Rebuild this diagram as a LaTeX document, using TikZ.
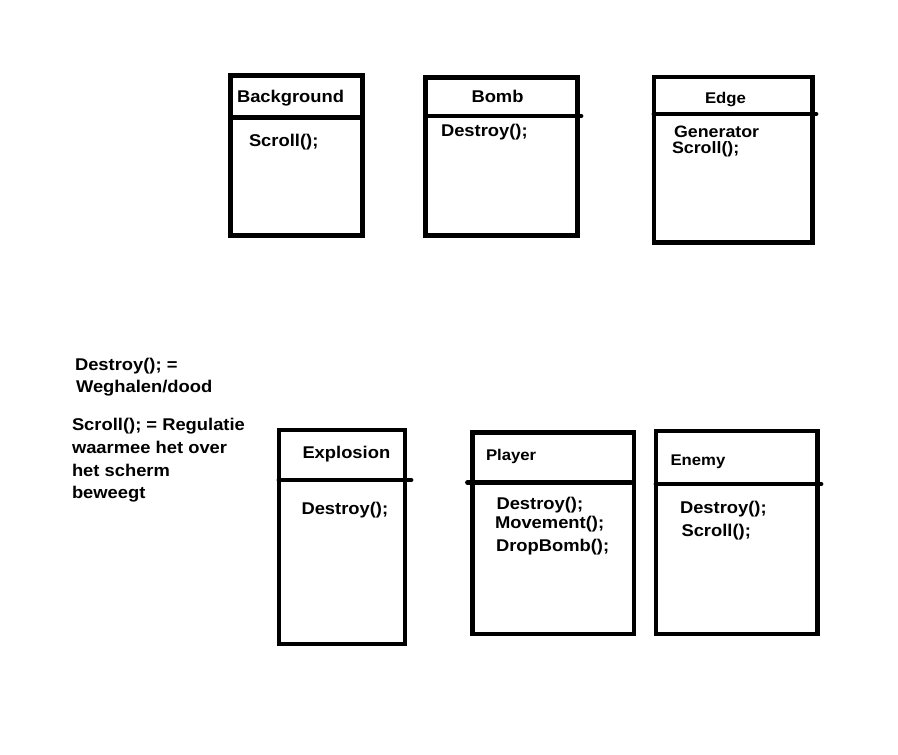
\documentclass[tikz,border=0pt]{standalone}
\usepackage{fontspec}
\setmainfont{Liberation Sans}[FakeStretch=1.08]
\begin{document}
\begin{tikzpicture}[x=1pt,y=-1pt,
  cls/.style={draw=black,line width=4.8pt,line join=miter,inner sep=0pt,outer sep=0pt},
  div/.style={draw=black,line width=4.8pt,line cap=round},
  txt/.style={anchor=base west,inner sep=0pt,outer sep=0pt,font=\bfseries\fontsize{17}{20}\selectfont},
  sml/.style={txt,font=\bfseries\fontsize{15.5}{18}\selectfont},
  mid/.style={txt,font=\bfseries\fontsize{16.5}{18}\selectfont}]
\useasboundingbox[fill=white] (0,0) rectangle (898,755);
% boxes
\node[cls,minimum width=132pt,minimum height=160pt] (bg) at (296.5,155.75) {};
\node[cls,minimum width=151.7pt,minimum height=158pt] (bomb) at (501.65,156.5) {};
\node[cls,minimum width=158.5pt,minimum height=165.5pt] (edge) at (733.25,159.75) {};
\node[cls,minimum width=126pt,minimum height=214pt] (expl) at (342,537) {};
\node[cls,minimum width=161.5pt,minimum height=201.5pt] (player) at (553.25,533.25) {};
\node[cls,minimum width=161.5pt,minimum height=203pt] (enemy) at (736.75,532.5) {};
% dividers
\draw[div] (bg.west |- 0,117.5) -- (bg.east |- 0,117.5);
\draw[div] (bomb.west |- 0,116) -- ([xshift=3.5pt]bomb.east |- 0,116);
\draw[div] (edge.west |- 0,114) -- ([xshift=3.5pt]edge.east |- 0,114);
\draw[div] (expl.west |- 0,480) -- ([xshift=6pt]expl.east |- 0,480);
\draw[div] ([xshift=-5pt]player.west |- 0,482.5) -- ([xshift=-3pt]player.east |- 0,482.5);
\draw[div] (enemy.west |- 0,484) -- ([xshift=3.5pt]enemy.east |- 0,484);
% texts
\node[txt] (t1) at (237,102) {Background};
\node[txt] (t2) at (249,146) {Scroll();};
\node[txt] (t3) at (471.5,102.5) {Bomb};
\node[txt] (t4) at (441,136.5) {Destroy();};
\node[sml] (t5) at (705,103) {Edge};
\node[mid] (t6) at (674,137) {Generator};
\node[mid] (t7) at (672,153) {Scroll();};
\node[txt] (t8) at (302.5,458) {Explosion};
\node[txt] (t9) at (301.5,514) {Destroy();};
\node[sml] (t10) at (486,460) {Player};
\node[txt] (t11) at (496.5,509) {Destroy();};
\node[txt] (t12) at (495,528.5) {Movement();};
\node[txt] (t13) at (496,551.5) {DropBomb();};
\node[sml] (t14) at (670.5,465.5) {Enemy};
\node[txt] (t15) at (680,513) {Destroy();};
\node[txt] (t16) at (681.5,536.5) {Scroll();};
\node[txt] (l1) at (75,370.5) {Destroy(); =};
\node[txt] (l2) at (76,392.5) {Weghalen/dood};
\node[txt] (l3) at (72,430.5) {Scroll(); = Regulatie};
\node[txt] (l4) at (72,453.5) {waarmee het over};
\node[txt] (l5) at (72,476.5) {het scherm};
\node[txt] (l6) at (72,498.5) {beweegt};
\end{tikzpicture}
\end{document}
